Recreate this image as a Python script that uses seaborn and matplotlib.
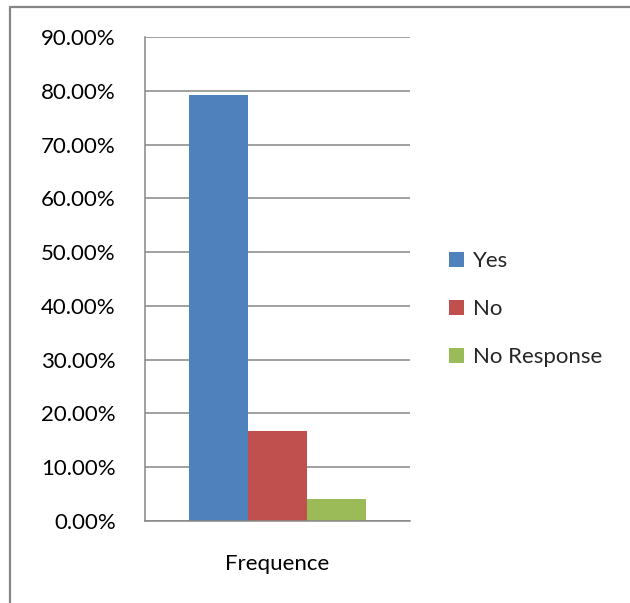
import matplotlib
matplotlib.use("Agg")
import matplotlib.pyplot as plt
import matplotlib.lines as mlines
import seaborn as sns
import pandas as pd

categories = ["Frequence"]
responses = ["Yes", "No", "No Response"]
shares = [79.17, 16.67, 4.17]
colors = ["#4F81BD", "#C0504D", "#9BBB59"]
ytick_values = [0, 10, 20, 30, 40, 50, 60, 70, 80, 90]

df = pd.DataFrame({"group": categories * len(responses),
                   "response": responses,
                   "share": shares})

sns.set_theme(style="white")
plt.rcParams["font.family"] = ["Lato", "DejaVu Sans"]

W, H = 630, 603
fs = 16
fig = plt.figure(figsize=(W / 100, H / 100), dpi=100)
ax = fig.add_axes([145 / W, 1 - 521 / H, (410 - 145) / W, (521 - 37) / H])

grid_c = "#868686"

sns.barplot(data=df, x="group", y="share", hue="response",
            hue_order=responses, palette=colors, width=0.668,
            saturation=1, ax=ax, legend=False, linewidth=0)

ax.set_xlim(-0.5, 0.5)
ax.set_ylim(0, 90)
ax.set_yticks(ytick_values)
ax.set_yticklabels([f"{v:.2f}%" for v in ytick_values], fontsize=fs, color="black")
ax.yaxis.grid(True, color=grid_c, linewidth=1.1)
ax.set_axisbelow(True)

ax.set_xticks([-0.5, 0.5])
ax.set_xticklabels(["", ""])
ax.set_xticks([0], labels=categories, minor=True)
ax.tick_params(axis="x", which="minor", length=0, pad=23.5, labelsize=fs, labelcolor="black")
ax.tick_params(axis="x", which="major", length=8, width=1.1, color=grid_c, direction="out")
ax.tick_params(axis="y", length=8, width=1.1, color=grid_c, direction="out", pad=13)
ax.set_xlabel("")
ax.set_ylabel("")

for side in ["top", "right"]:
    ax.spines[side].set_visible(False)
for side in ["left", "bottom"]:
    ax.spines[side].set_color(grid_c)
    ax.spines[side].set_linewidth(1.1)

handles = [plt.Rectangle((0, 0), 1, 1, facecolor=c, edgecolor="none") for c in colors]
fig.legend(handles, responses, loc="upper left",
           bbox_to_anchor=(449 / W, 1 - 251 / H), frameon=False,
           fontsize=fs, handlelength=0.68, handleheight=0.68,
           handletextpad=0.4, labelspacing=1.27, borderaxespad=0,
           borderpad=0)

# outer chart frame (top and left edges)
fig.add_artist(mlines.Line2D([10 / W, 1], [1 - 7 / H, 1 - 7 / H], color=grid_c, linewidth=1.6, transform=fig.transFigure))
fig.add_artist(mlines.Line2D([10 / W, 10 / W], [0, 1 - 7 / H], color=grid_c, linewidth=1.6, transform=fig.transFigure))

fig.savefig("out.png", dpi=100, facecolor="white")
